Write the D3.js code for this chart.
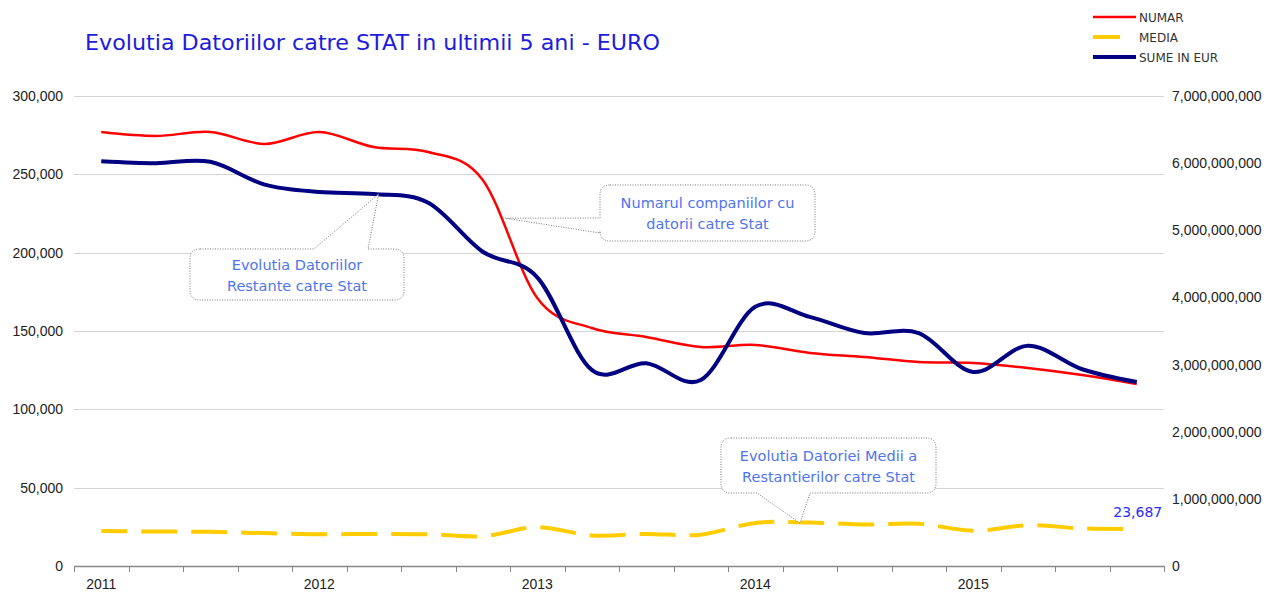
<!DOCTYPE html>
<html>
<head>
<meta charset="utf-8">
<script src="https://cdn.jsdelivr.net/npm/d3@7"></script>
<style>
  body { margin: 0; background: #fff; }
  svg { display: block; }
</style>
</head>
<body>
<svg id="chart" width="1269" height="592"></svg>
<script>
// 20 quarters, 2011 - 2015
var quarters = ['2011 T1', '2011 T2', '2011 T3', '2011 T4',
                '2012 T1', '2012 T2', '2012 T3', '2012 T4',
                '2013 T1', '2013 T2', '2013 T3', '2013 T4',
                '2014 T1', '2014 T2', '2014 T3', '2014 T4',
                '2015 T1', '2015 T2', '2015 T3', '2015 T4'];
var year_labels = ['2011', '2012', '2013', '2014', '2015'];

// NUMAR (left axis)
var numar = [277000, 274500, 277000, 269400, 277000, 267400, 264300, 246400,
             171000, 151900, 146200, 139800, 141100, 136000, 133400, 130200,
             129600, 126400, 121900, 116200];
// MEDIA (left axis)
var media = [22300, 22000, 21800, 21000, 20300, 20500, 20300, 19000,
             24800, 19500, 20500, 20000, 27500, 27800, 26500, 27000,
             22500, 26000, 24000, 23687];
// SUME IN EUR (right axis)
var sume = [6.03e9, 6.00e9, 6.02e9, 5.68e9, 5.57e9, 5.54e9, 5.41e9, 4.68e9,
            4.30e9, 2.92e9, 3.02e9, 2.77e9, 3.86e9, 3.71e9, 3.47e9, 3.47e9,
            2.89e9, 3.28e9, 2.93e9, 2.74e9];

var left_ticks = [0, 50000, 100000, 150000, 200000, 250000, 300000];
var right_ticks = [0, 1e9, 2e9, 3e9, 4e9, 5e9, 6e9, 7e9];

var series = [
    { name: 'NUMAR', values: numar, axis: 'left', color: '#ff0000', width: 2.5, dash: null },
    { name: 'MEDIA', values: media, axis: 'left', color: '#ffcc00', width: 4, dash: '36,14' },
    { name: 'SUME IN EUR', values: sume, axis: 'right', color: '#000080', width: 4, dash: null }
];

var svg = d3.select('#chart');
var plot_left = 74, plot_right = 1164, plot_top = 96, plot_bottom = 566;

var x = d3.scaleBand().domain(quarters).range([plot_left, plot_right]);
var bw = x.bandwidth();
var xc = function (i) { return x(quarters[0]) + bw / 2 + i * bw; }; // fractional index
var yL = d3.scaleLinear().domain([0, 300000]).range([plot_bottom, plot_top]);
var yR = d3.scaleLinear().domain([0, 7e9]).range([plot_bottom, plot_top]);

// gridlines
svg.append('g')
    .selectAll('line')
    .data(left_ticks.slice(1))
    .enter().append('line')
    .attr('x1', plot_left).attr('x2', plot_right)
    .attr('y1', function (d) { return Math.round(yL(d)) + 0.5; })
    .attr('y2', function (d) { return Math.round(yL(d)) + 0.5; })
    .attr('stroke', '#d4d4d4')
    .attr('stroke-width', 1.2);

// left axis
var gl = svg.append('g')
    .attr('transform', 'translate(' + plot_left + ',0)')
    .call(d3.axisLeft(yL).tickValues(left_ticks).tickSize(0).tickPadding(11)
          .tickFormat(d3.format(',')));
gl.select('.domain').remove();

// right axis
var gr = svg.append('g')
    .attr('transform', 'translate(' + plot_right + ',0)')
    .call(d3.axisRight(yR).tickValues(right_ticks).tickSize(0).tickPadding(8)
          .tickFormat(d3.format(',')));
gr.select('.domain').remove();

svg.selectAll('.tick text')
    .attr('font-family', 'Liberation Sans, Arial, sans-serif')
    .attr('font-size', 14)
    .attr('fill', '#222');

// x axis line + tick marks between categories
svg.append('line')
    .attr('x1', plot_left).attr('x2', plot_right)
    .attr('y1', plot_bottom + 0.5).attr('y2', plot_bottom + 0.5)
    .attr('stroke', '#888').attr('stroke-width', 1.5);

svg.append('g')
    .selectAll('line')
    .data(quarters.concat(['end']))
    .enter().append('line')
    .attr('x1', function (d, i) { return Math.round(plot_left + i * bw) + 0.5; })
    .attr('x2', function (d, i) { return Math.round(plot_left + i * bw) + 0.5; })
    .attr('y1', plot_bottom).attr('y2', plot_bottom + 6)
    .attr('stroke', '#888').attr('stroke-width', 1);

svg.append('g')
    .selectAll('text')
    .data(year_labels)
    .enter().append('text')
    .attr('x', function (d, i) { return xc(i * 4); })
    .attr('y', 589)
    .attr('text-anchor', 'middle')
    .attr('font-family', 'Liberation Sans, Arial, sans-serif')
    .attr('font-size', 14)
    .attr('fill', '#222')
    .text(function (d) { return d; });

// lines
var line_for = function (s) {
    var yy = s.axis === 'left' ? yL : yR;
    return d3.line()
        .x(function (d, i) { return xc(i); })
        .y(function (d) { return yy(d); })
        .curve(d3.curveCatmullRom.alpha(0));
};

svg.append('g')
    .selectAll('path')
    .data(series)
    .enter().append('path')
    .attr('d', function (s) { return line_for(s)(s.values); })
    .attr('fill', 'none')
    .attr('stroke', function (s) { return s.color; })
    .attr('stroke-width', function (s) { return s.width; })
    .attr('stroke-dasharray', function (s) { return s.dash; })
    .attr('stroke-dashoffset', function (s) { return s.dash ? 10 : null; })
    .attr('stroke-linejoin', 'round');

// last MEDIA value label
svg.append('text')
    .attr('x', xc(media.length - 1) + 1)
    .attr('y', yL(media[media.length - 1]) - 12)
    .attr('text-anchor', 'middle')
    .attr('font-family', 'DejaVu Sans, sans-serif')
    .attr('font-size', 14)
    .attr('fill', '#2a2aff')
    .text(d3.format(',')(media[media.length - 1]));

// callouts
function callout_path(b, side, w0, w1, tip) {
    var r = 10, p = d3.path();
    p.moveTo(b.x0 + r, b.y0);
    if (side === 'top') { p.lineTo(w0, b.y0); p.lineTo(tip[0], tip[1]); p.lineTo(w1, b.y0); }
    p.lineTo(b.x1 - r, b.y0);
    p.quadraticCurveTo(b.x1, b.y0, b.x1, b.y0 + r);
    p.lineTo(b.x1, b.y1 - r);
    p.quadraticCurveTo(b.x1, b.y1, b.x1 - r, b.y1);
    if (side === 'bottom') { p.lineTo(w1, b.y1); p.lineTo(tip[0], tip[1]); p.lineTo(w0, b.y1); }
    p.lineTo(b.x0 + r, b.y1);
    p.quadraticCurveTo(b.x0, b.y1, b.x0, b.y1 - r);
    if (side === 'left') { p.lineTo(b.x0, w1); p.lineTo(tip[0], tip[1]); p.lineTo(b.x0, w0); }
    p.lineTo(b.x0, b.y0 + r);
    p.quadraticCurveTo(b.x0, b.y0, b.x0 + r, b.y0);
    p.closePath();
    return p.toString();
}

var callouts = [
    { lines: ['Evolutia Datoriilor', 'Restante catre Stat'],
      box: { x0: 190, y0: 249, x1: 404, y1: 300 }, side: 'top', w0: 314, w1: 368,
      tip: [xc(5.09), yR(5.54e9)] },
    { lines: ['Numarul companiilor cu', 'datorii catre Stat'],
      box: { x0: 600, y0: 185, x1: 815, y1: 241 }, side: 'left', w0: 218, w1: 233,
      tip: [xc(7.41), yL(222000)] },
    { lines: ['Evolutia Datoriei Medii a', 'Restantierilor catre Stat'],
      box: { x0: 721, y0: 438, x1: 936, y1: 493 }, side: 'bottom', w0: 757, w1: 810,
      tip: [xc(12.82), yL(27400)] }
];

var cg = svg.append('g')
    .selectAll('g')
    .data(callouts)
    .enter().append('g');

cg.append('path')
    .attr('d', function (c) { return callout_path(c.box, c.side, c.w0, c.w1, c.tip); })
    .attr('fill', '#fff')
    .attr('stroke', '#777')
    .attr('stroke-width', 1)
    .attr('stroke-dasharray', '1,1.5');

cg.each(function (c) {
    var cx = (c.box.x0 + c.box.x1) / 2, cy = (c.box.y0 + c.box.y1) / 2;
    d3.select(this).selectAll('text')
        .data(c.lines)
        .enter().append('text')
        .attr('x', cx)
        .attr('y', function (d, i) { return cy - 5 + i * 21; })
        .attr('text-anchor', 'middle')
        .attr('font-family', 'DejaVu Sans, sans-serif')
        .attr('font-size', 14.5)
        .attr('fill', '#4f74f0')
        .text(function (d) { return d; });
});

// title
svg.append('text')
    .attr('x', 85).attr('y', 50)
    .attr('font-family', 'DejaVu Sans, sans-serif')
    .attr('font-size', 21)
    .attr('fill', '#1c1cdc')
    .attr('textLength', 575)
    .attr('lengthAdjust', 'spacingAndGlyphs')
    .text('Evolutia Datoriilor catre STAT in ultimii 5 ani - EURO');

// legend
var lg = svg.append('g')
    .selectAll('g')
    .data(series)
    .enter().append('g')
    .attr('transform', function (s, i) { return 'translate(1093,' + (17 + i * 20) + ')'; });

lg.append('line')
    .attr('x1', 0)
    .attr('x2', function (s) { return s.dash ? 27 : 43; })
    .attr('stroke', function (s) { return s.color; })
    .attr('stroke-width', function (s) { return s.width; });

lg.append('text')
    .attr('x', 46).attr('y', 4.5)
    .attr('font-family', 'DejaVu Sans, sans-serif')
    .attr('font-size', 12)
    .attr('fill', '#333')
    .text(function (s) { return s.name; });
</script>
</body>
</html>
